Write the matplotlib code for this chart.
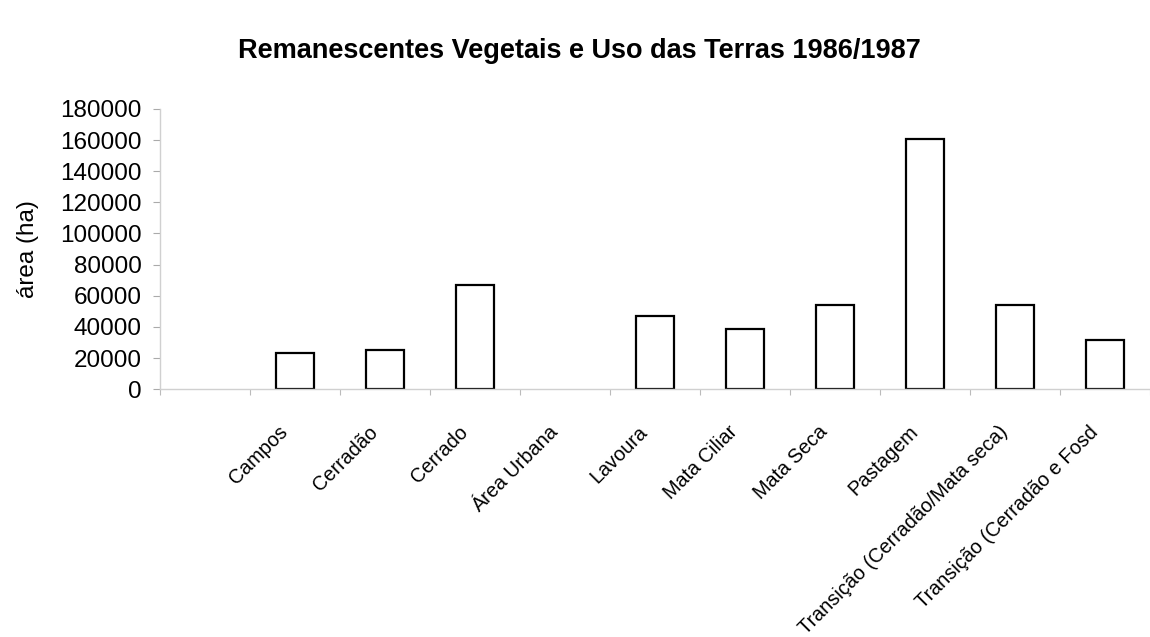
import numpy as np
import matplotlib
matplotlib.use("Agg")
import matplotlib.pyplot as plt
from matplotlib.transforms import ScaledTranslation, blended_transform_factory

plt.rcParams["font.family"] = ["Liberation Sans", "DejaVu Sans"]

categories = [
    "Campos",
    "Cerradão",
    "Cerrado",
    "Área Urbana",
    "Lavoura",
    "Mata Ciliar",
    "Mata Seca",
    "Pastagem",
    "Transição (Cerradão/Mata seca)",
    "Transição (Cerradão e Fosd",
]
area_ha = [23000, 25000, 67000, 0, 47000, 38500, 54000, 160500, 54000, 31500]
y_ticks = [0, 20000, 40000, 60000, 80000, 100000, 120000, 140000, 160000, 180000]

fig = plt.figure(figsize=(11.5, 6.37), dpi=100)
ax = fig.add_axes([0.139, 0.389, 0.861, 0.44])

x = np.arange(len(categories))
edge = ["black" if v > 0 else "none" for v in area_ha]
ax.bar(x, area_ha, width=0.43, facecolor="white", edgecolor=edge, linewidth=1.6)

ax.set_xlim(-1.5, len(categories) - 0.5)
ax.set_ylim(0, 180000)
ax.set_yticks(y_ticks)
ax.set_yticklabels([str(v) for v in y_ticks], fontsize=17.5)

# category labels, rotated like the original spreadsheet chart
ax.set_xticks(np.arange(-1.5, len(categories), 1.0))
ax.set_xticklabels([])
ax.tick_params(axis="x", length=4, color="#bbbbbb", direction="out")
ax.tick_params(axis="y", length=5, color="#aaaaaa", pad=8)
trans = blended_transform_factory(ax.transData, ax.transAxes) + \
    ScaledTranslation(-17 / 100, -33 / 100, fig.dpi_scale_trans)
for xi, name in zip(x, categories):
    ax.text(xi, 0, name, transform=trans, rotation=45, ha="right", va="top",
            rotation_mode="anchor", fontsize=14.3)

for side in ["top", "right"]:
    ax.spines[side].set_visible(False)
for side in ["left", "bottom"]:
    ax.spines[side].set_color("#d0d0d0")
    ax.spines[side].set_linewidth(1.0)

ax.set_ylabel("área (ha)", fontsize=17.5, labelpad=15)
fig.suptitle("Remanescentes Vegetais e Uso das Terras 1986/1987",
             fontsize=19.5, fontweight="bold", x=0.504, y=0.94)

fig.savefig("out.png", dpi=100, facecolor="white")
